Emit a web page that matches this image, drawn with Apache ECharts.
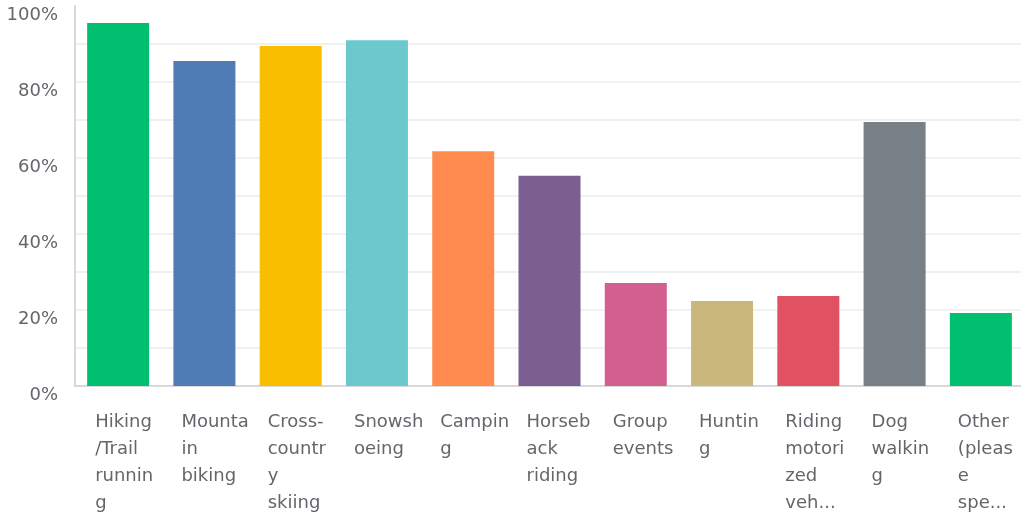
<!DOCTYPE html>
<html>
<head>
<meta charset="utf-8">
<script src="https://cdn.jsdelivr.net/npm/echarts@6/dist/echarts.min.js"></script>
<style>
  html, body { margin: 0; padding: 0; background: #fff; overflow: hidden; }
  /* plot runs a few px past the right edge of the window, as in the screenshot */
  #chart { width: 1024px; height: 516px; }
</style>
</head>
<body>
<div id="chart"></div>
<script>
// answer options as they appear on the axis
const categories = [
  'Hiking/Trail running', 'Mountain biking', 'Cross-country skiing', 'Snowshoeing',
  'Camping', 'Horseback riding', 'Group events', 'Hunting',
  'Riding motorized vehicles', 'Dog walking', 'Other (please specify)'
]
// tick labels, wrapped the way the survey tool cuts them
const tickLabels = [
  'Hiking\n/Trail\nrunnin\ng', 'Mounta\nin\nbiking', 'Cross-\ncountr\ny\nskiing', 'Snowsh\noeing',
  'Campin\ng', 'Horseb\nack\nriding', 'Group\nevents', 'Huntin\ng',
  'Riding\nmotori\nzed\nveh...', 'Dog\nwalkin\ng', 'Other\n(pleas\ne\nspe...'
]
// percent of respondents
const values = [95.5, 85.5, 89.5, 91, 61.8, 55.3, 27.1, 22.4, 23.7, 69.5, 19.2]
const barColors = [
  '#00bf6f', '#507cb6', '#f9be00', '#6bc8cd', '#ff8b4f', '#7d5e90',
  '#d25f90', '#c9b77c', '#e05162', '#768086', '#00bf6f'
]
const yTicks = [0, 20, 40, 60, 80, 100]

const chart = echarts.init(document.getElementById('chart'))
const font = 'DejaVu Sans'
const textColor = '#63676b'

chart.setOption({
  animation: false,
  grid: { left: 75, right: 0, top: 6, bottom: 130 },
  xAxis: {
    type: 'category',
    data: categories,
    axisTick: { show: false },
    axisLine: { lineStyle: { color: '#d9d9d9', width: 2 } },
    axisLabel: {
      interval: 0,
      margin: 23,
      align: 'center',
      formatter: (v, i) => '{a|' + tickLabels[i] + '}',
      rich: {
        a: {
          width: 46,
          align: 'left',
          fontFamily: font,
          fontSize: 18,
          lineHeight: 27,
          color: textColor
        }
      }
    }
  },
  yAxis: {
    type: 'value',
    min: yTicks[0],
    max: yTicks[yTicks.length - 1],
    interval: 20,
    axisLine: { show: true, lineStyle: { color: '#d9d9d9', width: 2 } },
    axisTick: { show: false },
    axisLabel: {
      formatter: '{value}%',
      margin: 17,
      verticalAlign: 'top',
      lineHeight: 18,
      fontFamily: font,
      fontSize: 18,
      color: textColor
    },
    splitLine: {
      lineStyle: {
        color: ['#ececec', '#ececec', '#ececec', '#ececec', '#ececec', 'rgba(0,0,0,0)'],
        width: 1.5
      }
    },
    minorTick: { show: false, splitNumber: 2 },
    minorSplitLine: { show: true, lineStyle: { color: '#ececec', width: 1.5 } }
  },
  series: [{
    type: 'bar',
    barWidth: 62,
    data: values.map((v, i) => ({ value: v, itemStyle: { color: barColors[i] } }))
  }]
})
</script>
</body>
</html>
